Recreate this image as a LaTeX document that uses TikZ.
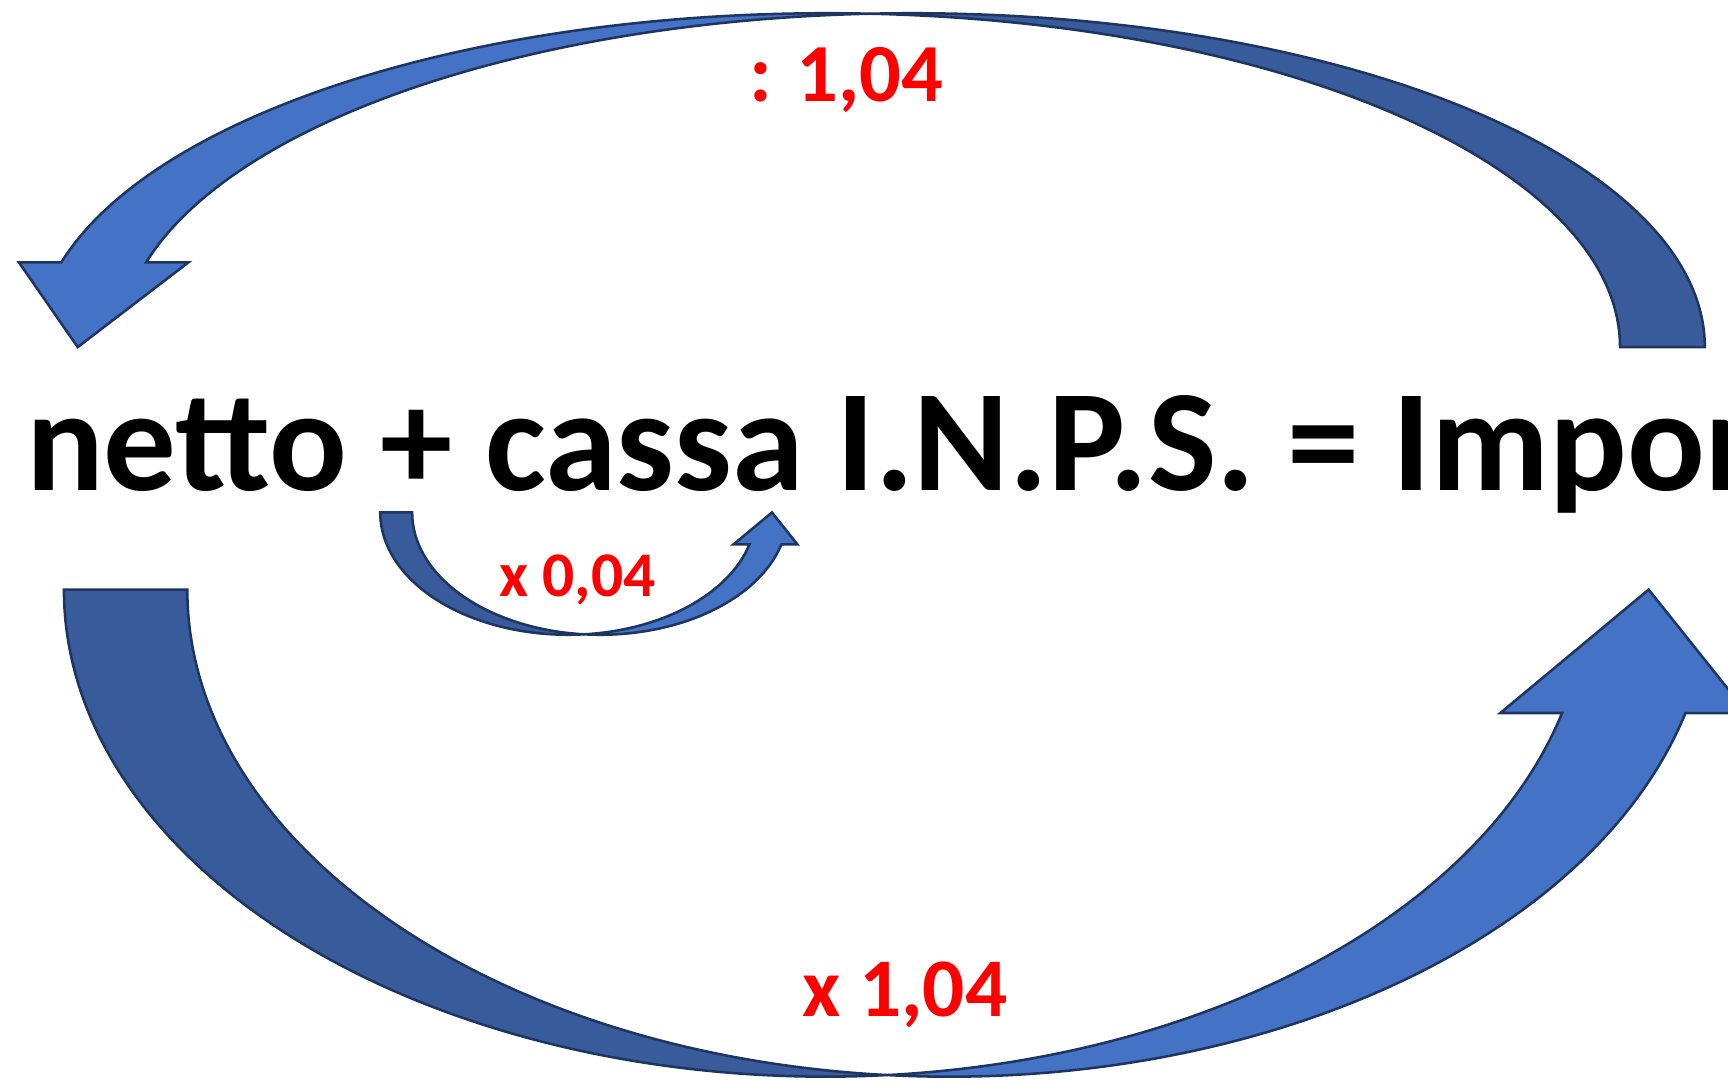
\documentclass[tikz,border=0pt]{standalone}
\usepackage{fontspec}
\setmainfont{Carlito}
\usepackage{tikz}
\definecolor{front}{HTML}{4472C4}
\definecolor{back}{HTML}{375B9B}
\definecolor{rim}{HTML}{1D3560}

\begin{document}
\begin{tikzpicture}[x=0.01cm, y=0.01cm,
  backpart/.style={fill=back, draw=rim, line width=0.65pt},
  frontpart/.style={fill=front, draw=rim, line width=0.65pt},
  factor/.style={text=red, inner sep=0, font=\bfseries\fontsize{#1}{#1}\selectfont}]
  \useasboundingbox (0,0) rectangle (1568,981);
  \clip (0,0) rectangle (1568,981);
  % bent arrows: centre of outer ellipse, radii, band width, turn
  \foreach \cx/\cy/\rx/\ry/\off/\rot in {749/446/691/442/112/0,
                                          515.5/516/170.5/111/29/0,
                                          828/666/719/303/77/180}{
    \pgfmathsetmacro\ang{acos(\off/(2*\rx))}
    \pgfmathsetmacro\hd{asin(\off/\ry)}
    \pgfmathsetmacro\hx{\rx*cos(\hd)}
    \begin{scope}[shift={(\cx,\cy)}, rotate=\rot]
      \filldraw[backpart] (-\rx,0)
        arc[start angle=180, end angle={360-\ang}, x radius=\rx, y radius=\ry]
        arc[start angle={180+\ang}, end angle=180, x radius=\rx, y radius=\ry] -- cycle;
      \filldraw[frontpart] (\off/2, {-\ry*sin(\ang)})
        arc[start angle={360-\ang}, end angle={360-\hd}, x radius=\rx, y radius=\ry]
        -- ++(-\off/2,0) -- ({\rx+\off/2},0) -- ({\hx+1.5*\off},-\off) -- ({\hx+\off},-\off)
        arc[start angle={360-\hd}, end angle={180+\ang}, x radius=\rx, y radius=\ry] -- cycle;
    \end{scope}
  }
  \node[anchor=base west, inner sep=0, font=\bfseries\fontsize{37.4pt}{40pt}\selectfont]
    (formula) at (23,536) {netto + cassa I.N.P.S. = Impor};
  \node[factor=21.3pt, anchor=base] (divide) at (768,889) {: 1,04};
  \node[factor=16.4pt, anchor=base] (share) at (524,440) {x 0,04};
  \node[factor=21.5pt, anchor=base] (times) at (821,59) {x 1,04};
\end{tikzpicture}
\end{document}
